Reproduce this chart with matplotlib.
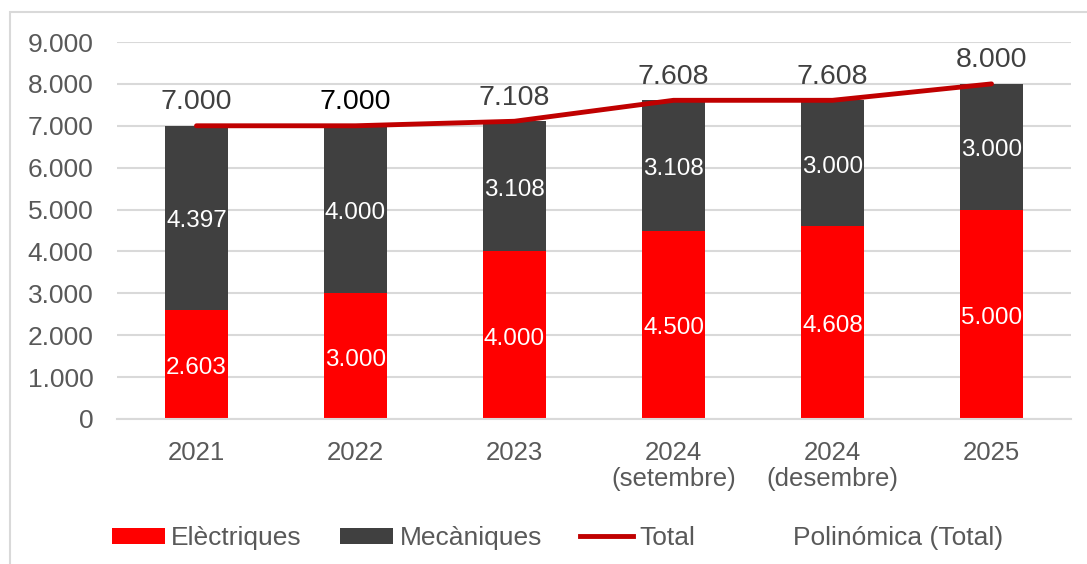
import matplotlib
matplotlib.use("Agg")
import matplotlib.pyplot as plt
from matplotlib.patches import Rectangle, Patch
from matplotlib.lines import Line2D

plt.rcParams['font.family'] = ['Liberation Sans', 'DejaVu Sans']

categories = ["2021", "2022", "2023", "2024\n(setembre)", "2024\n(desembre)", "2025"]
electriques = [2603, 3000, 4000, 4500, 4608, 5000]
mecaniques = [4397, 4000, 3108, 3108, 3000, 3000]
total = [7000, 7000, 7108, 7608, 7608, 8000]
yticks = [0, 1000, 2000, 3000, 4000, 5000, 6000, 7000, 8000, 9000]
ytick_labels = ["0", "1.000", "2.000", "3.000", "4.000", "5.000", "6.000", "7.000", "8.000", "9.000"]

def fmt(v):
    return f"{v:,}".replace(",", ".")

RED = "#FF0000"
DARK = "#404040"
LINE = "#C00000"
TXT = "#595959"
GRID = "#D9D9D9"

fig = plt.figure(figsize=(10.87, 5.64), dpi=100)
ax = fig.add_axes([117/1087, 1-419/564, (1071-117)/1087, (419-42)/564])

x = list(range(len(categories)))
w = 0.40
ax.bar(x, electriques, width=w, color=RED, zorder=2)
ax.bar(x, mecaniques, width=w, bottom=electriques, color=DARK, zorder=2)
ax.plot(x, total, color=LINE, linewidth=3.5, solid_capstyle='round', zorder=3)

for i in x:
    ax.annotate(fmt(electriques[i]), (i, electriques[i]/2), xytext=(0, -2.5),
                textcoords='offset points', ha='center', va='center',
                color='white', fontsize=17.5, zorder=4)
    ax.annotate(fmt(mecaniques[i]), (i, electriques[i] + mecaniques[i]/2), xytext=(0, -2.5),
                textcoords='offset points', ha='center', va='center',
                color='white', fontsize=17.5, zorder=4)
    ax.annotate(fmt(total[i]), (i, total[i]), xytext=(0, 17), textcoords='offset points',
                ha='center', va='center', fontsize=20.5,
                color='black' if i == 1 else DARK, zorder=4)

ax.set_xlim(-0.5, len(categories) - 0.5)
ax.set_ylim(0, 9000)
ax.set_yticks(yticks)
ax.set_yticklabels(ytick_labels)
ax.set_xticks(x)
ax.set_xticklabels(categories, linespacing=1.15)
ax.tick_params(axis='y', length=0, pad=17, labelsize=19, labelcolor=TXT)
ax.tick_params(axis='x', length=0, pad=15.5, labelsize=18.5, labelcolor=TXT)
ax.grid(axis='y', color=GRID, linewidth=1.5, zorder=0)
ax.set_axisbelow(True)
for s in ['top', 'right', 'left']:
    ax.spines[s].set_visible(False)
ax.spines['bottom'].set_color(GRID)
ax.spines['bottom'].set_linewidth(1.5)

handles = [
    Patch(facecolor=RED, edgecolor='none'),
    Patch(facecolor=DARK, edgecolor='none'),
    Line2D([0], [0], color=LINE, linewidth=3.5),
    Line2D([0], [0], color='none'),
]
labels = ["Elèctriques", "Mecàniques", "Total", "Polinómica (Total)"]
leg = fig.legend(handles, labels, loc='center', bbox_to_anchor=(0.513, 1-538/564), ncol=4,
                 frameon=False, fontsize=19, handlelength=2.0, handleheight=0.55,
                 handletextpad=0.25, columnspacing=1.45, labelcolor=TXT)

fig.patches.append(Rectangle((10/1087, -0.1), 1.2, 1.1 - 12/564, transform=fig.transFigure,
                             fill=False, edgecolor=GRID, linewidth=1.5))

fig.savefig("out.png", dpi=100)
